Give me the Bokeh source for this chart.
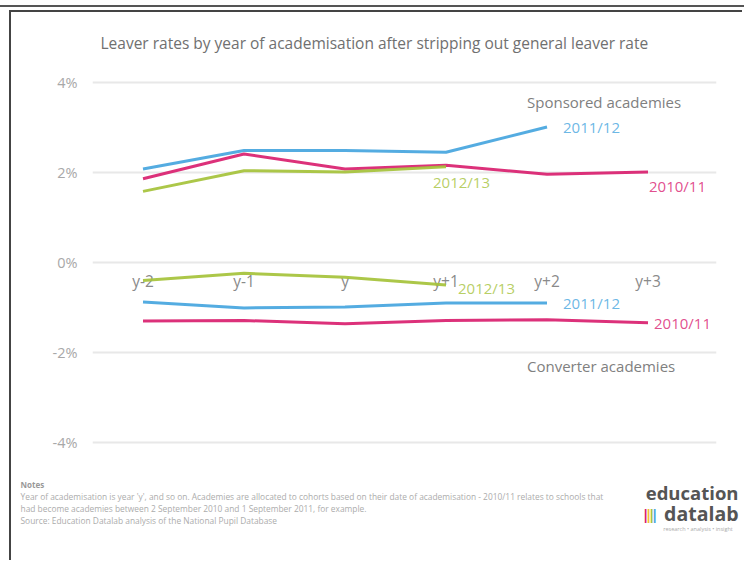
from bokeh.plotting import figure
from bokeh.models import FixedTicker, PrintfTickFormatter, Label, Range1d, Div, Title
from bokeh.layouts import column
from bokeh.core.properties import value
from bokeh.embed import file_html
from bokeh.resources import INLINE

# ---- data ----
cats = ["y-2", "y-1", "y", "y+1", "y+2", "y+3"]
sponsored_2010_11 = [1.86, 2.41, 2.08, 2.16, 1.96, 2.01]
sponsored_2011_12 = [2.08, 2.49, 2.49, 2.45, 3.01]
sponsored_2012_13 = [1.58, 2.04, 2.01, 2.13]
converter_2010_11 = [-1.30, -1.29, -1.36, -1.29, -1.27, -1.34]
converter_2011_12 = [-0.88, -1.01, -0.99, -0.90, -0.90]
converter_2012_13 = [-0.40, -0.24, -0.33, -0.50]
y_ticks = [-4, -2, 0, 2, 4]

title_text = "Leaver rates by year of academisation after stripping out general leaver rate"
notes_lines = [
    "Year of academisation is year 'y', and so on. Academies are allocated to cohorts based on their date of academisation - 2010/11 relates to schools that",
    "had become academies between 2 September 2010 and 1 September 2011, for example.",
    "Source: Education Datalab analysis of the National Pupil Database",
]

BLUE = "#45a5de"
PINK = "#d9206f"
GREEN = "#a5c23a"
FONT = "Open Sans"
pos = list(range(len(cats)))

p = figure(width=731, height=462, output_backend="svg", toolbar_location=None, title=None,
           x_range=Range1d(-0.5, 5.678), y_range=Range1d(-4.4, 4.4),
           min_border_left=81, min_border_right=26, min_border_top=52, min_border_bottom=14)
p.frame_align = False
p.outline_line_color = None
p.background_fill_color = "white"
p.border_fill_color = "white"

# small spacer title next to the frame, then the real title above it
p.add_layout(Title(text=" ", text_font_size="5px", standoff=0), "above")
p.add_layout(Title(text=title_text, text_font=FONT, text_font_size="15.5px",
                   text_font_style="normal", text_color="#707070", align="left",
                   offset=8, standoff=6), "above")

p.xaxis.visible = False
p.xgrid.grid_line_color = None
p.yaxis.ticker = FixedTicker(ticks=y_ticks)
p.yaxis.formatter = PrintfTickFormatter(format="%d%%")
p.yaxis.axis_line_color = None
p.yaxis.major_tick_line_color = None
p.yaxis.minor_tick_line_color = None
p.yaxis.major_label_standoff = 9
p.yaxis.major_label_text_font = FONT
p.yaxis.major_label_text_font_size = "14.5px"
p.yaxis.major_label_text_color = "#a8a8a8"
p.ygrid.ticker = FixedTicker(ticks=y_ticks)
p.ygrid.grid_line_color = "#e8e8e8"
p.ygrid.grid_line_width = 2

# category labels along the zero line
XLAB_Y = -0.4
p.text(x=pos, y=[XLAB_Y] * len(cats), text=cats, text_align="center", text_baseline="middle",
       text_font=value(FONT), text_font_size="15.5px", text_color="#8a8a8a")

series = [
    (sponsored_2011_12, BLUE, "2011/12", 16, 0),
    (sponsored_2010_11, PINK, "2010/11", 1, -14),
    (sponsored_2012_13, GREEN, "2012/13", -13, -15),
    (converter_2011_12, BLUE, "2011/12", 16, 0),
    (converter_2010_11, PINK, "2010/11", 6, 0),
    (converter_2012_13, GREEN, "2012/13", 12, -3),
]
for vals, col, lab, dx, dy in series:
    xs = pos[:len(vals)]
    p.line(xs, vals, line_color=col, line_width=3, line_alpha=0.92)
    p.add_layout(Label(x=xs[-1], y=vals[-1], x_offset=dx, y_offset=dy, text=lab,
                       text_align="left", text_baseline="middle", text_font=FONT,
                       text_font_size="15px", text_color=col, text_alpha=0.8))

p.add_layout(Label(x=pos[4], y=3.57, x_offset=-20, text="Sponsored academies", text_align="left",
                   text_baseline="middle", text_font=FONT, text_font_size="15px", text_color="#808080"))
p.add_layout(Label(x=pos[4], y=-2.31, x_offset=-20, text="Converter academies", text_align="left",
                   text_baseline="middle", text_font=FONT, text_font_size="15px", text_color="#808080"))

# footer (notes + logo) drawn in a pixel-space figure
FW, FH = 731, 86
f = figure(width=FW, height=FH, output_backend="svg", toolbar_location=None,
           x_range=Range1d(0, FW), y_range=Range1d(FH, 0), min_border=0)
f.frame_align = False
f.axis.visible = False
f.grid.visible = False
f.outline_line_color = None
f.border_fill_color = "white"
f.text(x=[9], y=[10], text=["Notes"], text_font=value(FONT), text_font_size="8px",
       text_font_style="bold", text_color="#999999", text_baseline="middle")
f.text(x=[9] * len(notes_lines), y=[22 + 12 * i for i in range(len(notes_lines))], text=notes_lines,
       text_font=value(FONT), text_font_size="8.4px", text_color="#acacac", text_baseline="middle")
f.text(x=[727], y=[18], text=["education"], text_font=value(FONT),
       text_font_size="18.5px", text_font_style="bold", text_color="#555555",
       text_align="right", text_baseline="middle")
f.text(x=[727], y=[39], text=["datalab"], text_font=value(FONT),
       text_font_size="19.5px", text_font_style="bold", text_color="#555555",
       text_align="right", text_baseline="middle")
f.text(x=[630, 633, 636, 639], y=[39] * 4, text=["|"] * 4, text_font=value(FONT),
       text_font_size="15px", text_font_style="bold",
       text_color=[PINK, "#f2c230", GREEN, BLUE], text_align="left", text_baseline="middle")
f.text(x=[727], y=[54], text=["research  \u2022  analysis  \u2022  insight"], text_font=value(FONT),
       text_font_size="5.5px", text_color="#aaaaaa", text_align="right", text_baseline="middle")

inner = column(p, f, spacing=0, margin=(3, 0, 0, 9),
               styles={"border-top": "2px solid #444", "border-left": "2px solid #444"})
top_rule = Div(text="", width=744, height=2, margin=(5, 0, 0, 0),
               styles={"background-color": "#555555"})
page = column(top_rule, inner, spacing=0)

open("out.html", "w").write(file_html(page, INLINE))
